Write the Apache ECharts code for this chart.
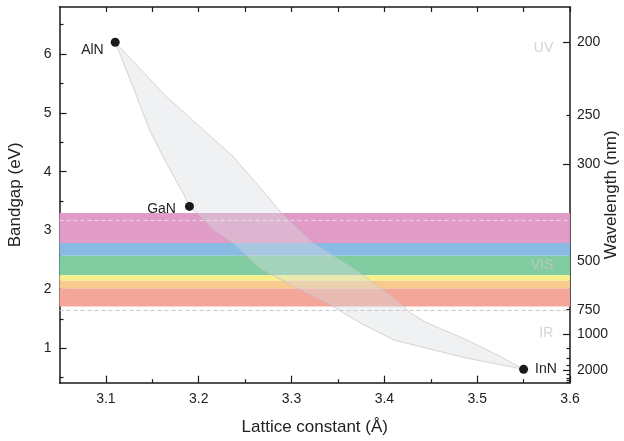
<!DOCTYPE html>
<html>
<head>
<meta charset="utf-8">
<script src="https://cdn.jsdelivr.net/npm/echarts@6/dist/echarts.min.js"></script>
<style>
  html, body { margin: 0; padding: 0; background: #fff; }
  #main { width: 624px; height: 441px; }
</style>
</head>
<body>
<div id="main"></div>
<script>
// tick positions
var xTicks = [3.1, 3.2, 3.3, 3.4, 3.5, 3.6];
var xMinorTicks = [3.15, 3.25, 3.35, 3.45, 3.55];
var yTicks = [1, 2, 3, 4, 5, 6];
var yMinorTicks = [0.5, 1.5, 2.5, 3.5, 4.5, 5.5, 6.5];
var wavelengthLabels = [200, 250, 300, 500, 750, 1000, 2000];
var wavelengthMajor = [200, 300, 500, 1000, 2000];
var wavelengthMinor = [250, 750, 1250, 1500, 1750, 2250, 2500, 2750, 3000];

// binary nitrides
var compounds = ['AlN', 'GaN', 'InN'];
var latticeConst = [3.11, 3.19, 3.55];
var bandgap = [6.2, 3.41, 0.64];

// ternary alloy edges (lattice constant, bandgap)
var alinnEdge = [[3.11, 6.2], [3.165, 5.28], [3.201, 4.77], [3.237, 4.26], [3.271, 3.64], [3.289, 3.30],
                 [3.323, 2.79], [3.374, 2.28], [3.417, 1.77], [3.428, 1.60], [3.446, 1.43], [3.489, 1.14],
                 [3.525, 0.86], [3.55, 0.64]];
var alganEdge = [[3.11, 6.2], [3.129, 5.45], [3.147, 4.71], [3.165, 4.15], [3.183, 3.64], [3.19, 3.41]];
var inganEdge = [[3.19, 3.41], [3.198, 3.30], [3.216, 3.01], [3.237, 2.79], [3.266, 2.36], [3.302, 2.05],
                 [3.338, 1.77], [3.374, 1.43], [3.410, 1.14], [3.453, 0.97], [3.489, 0.83], [3.525, 0.72],
                 [3.55, 0.64]];

// visible spectrum bands (eV edges, top to bottom)
var bandEdges = [3.30, 2.79, 2.57, 2.24, 2.145, 2.015, 1.71];
var bandColors = ['#e09cc6', '#88bae4', '#82cca2', '#f8f08c', '#f8ca8e', '#f4a698'];
var dashedLevels = [3.17, 1.65];

var regionNames = ['UV', 'VIS', 'IR'];
var regionLevels = [6.10, 2.405, 1.255];

var HC = 1240; // eV*nm

var ink = '#1a1a1a';
var font = 'Liberation Sans, Arial, sans-serif';
var yMin = 0.413, yMax = 6.8;

var polygon = alganEdge.concat(inganEdge.slice(1)).concat(alinnEdge.slice(0, -1).reverse());

var bandAreas = [];
for (var i = 0; i < bandColors.length; i++) {
    bandAreas.push([
        { yAxis: bandEdges[i], itemStyle: { color: bandColors[i] } },
        { yAxis: bandEdges[i + 1] }
    ]);
}

var labelPos = [
    { position: 'left', offset: [-2, 8] },
    { position: 'left', offset: [-4, 3] },
    { position: 'right', offset: [2, 0] }
];
var points = compounds.map(function (c, i) {
    return { name: c, value: [latticeConst[i], bandgap[i]], label: labelPos[i] };
});

var chart = echarts.init(document.getElementById('main'));

function baseY(extra) {
    var o = {
        type: 'value', min: yMin, max: yMax, gridIndex: 0,
        splitLine: { show: false },
        axisLine: { show: true, lineStyle: { color: ink, width: 1.5 } },
        axisLabel: { show: false },
        axisTick: { show: false }
    };
    for (var k in extra) o[k] = extra[k];
    return o;
}

var nameStyle = { fontSize: 17, color: '#222', fontFamily: font };

chart.setOption({
    animation: false,
    textStyle: { fontFamily: font },
    grid: { left: 59.5, right: 54, top: 7, bottom: 58.3, containLabel: false, outerBoundsMode: 'none' },
    xAxis: [
        {
            type: 'value', min: 3.05, max: 3.6, position: 'bottom',
            name: 'Lattice constant (Å)', nameLocation: 'middle', nameGap: 36, nameMoveOverlap: false,
            nameTextStyle: nameStyle,
            splitLine: { show: false },
            axisLine: { lineStyle: { color: ink, width: 1.5 } },
            axisTick: { inside: true, length: 7, customValues: xTicks, lineStyle: { color: ink, width: 1.2 } },
            axisLabel: { customValues: xTicks, fontSize: 14, color: '#222', margin: 9, fontFamily: font }
        },
        {
            type: 'value', min: 3.05, max: 3.6, position: 'bottom',
            splitLine: { show: false },
            axisLine: { show: false },
            axisTick: { inside: true, length: 3.5, customValues: xMinorTicks, lineStyle: { color: ink, width: 1.2 } },
            axisLabel: { show: false }
        },
        {
            type: 'value', min: 3.05, max: 3.6, position: 'top',
            splitLine: { show: false },
            axisLine: { lineStyle: { color: ink, width: 1.5 } },
            axisTick: { inside: true, length: 5, customValues: xTicks.concat(xMinorTicks), lineStyle: { color: ink, width: 1.2 } },
            axisLabel: { show: false }
        }
    ],
    yAxis: [
        baseY({
            position: 'left',
            name: 'Bandgap (eV)', nameLocation: 'middle', nameGap: 36, nameRotate: 90, nameMoveOverlap: false,
            nameTextStyle: nameStyle,
            axisTick: { show: true, inside: true, length: 7, customValues: yTicks, lineStyle: { color: ink, width: 1.2 } },
            axisLabel: { show: true, customValues: yTicks, fontSize: 14, color: '#222', margin: 8, fontFamily: font }
        }),
        baseY({
            position: 'left', axisLine: { show: false },
            axisTick: { show: true, inside: true, length: 4, customValues: yMinorTicks, lineStyle: { color: ink, width: 1.2 } }
        }),
        baseY({
            position: 'right',
            name: 'Wavelength (nm)', nameLocation: 'middle', nameGap: 33, nameRotate: 90, nameMoveOverlap: false,
            nameTextStyle: nameStyle,
            axisTick: { show: true, inside: true, length: 7,
                customValues: wavelengthMajor.map(function (w) { return HC / w; }),
                lineStyle: { color: ink, width: 1.2 } },
            axisLabel: { show: true, fontSize: 14, color: '#222', margin: 7, fontFamily: font,
                customValues: wavelengthLabels.map(function (w) { return HC / w; }),
                formatter: function (v) { return Math.round(HC / v); } }
        }),
        baseY({
            position: 'right', axisLine: { show: false },
            axisTick: { show: true, inside: true, length: 3.5,
                customValues: wavelengthMinor.map(function (w) { return HC / w; }).filter(function (v) { return v >= yMin; }),
                lineStyle: { color: ink, width: 1.2 } }
        })
    ],
    series: [
        {
            name: 'bands', type: 'line', data: [], z: 1,
            markArea: { silent: true, data: bandAreas }
        },
        {
            name: 'alloys', type: 'custom', z: 2,
            data: polygon,
            renderItem: function (params, api) {
                if (params.dataIndex !== 0) return;
                var pts = polygon.map(function (p) { return api.coord(p); });
                return {
                    type: 'polygon',
                    shape: { points: pts },
                    style: { fill: 'rgba(216,219,224,0.4)', stroke: 'rgba(190,190,190,0.8)', lineWidth: 0.8 }
                };
            }
        },
        {
            name: 'limits', type: 'line', data: [], z: 3,
            markLine: {
                silent: true, symbol: 'none', label: { show: false },
                data: [
                    { yAxis: dashedLevels[0], lineStyle: { color: 'rgba(242,242,242,0.7)', type: [4, 3], width: 1 } },
                    { yAxis: dashedLevels[1], lineStyle: { color: '#c8c8c8', type: [4, 3], width: 1 } }
                ]
            }
        },
        {
            name: 'regions', type: 'scatter', z: 4, symbolSize: 0, silent: true,
            data: regionNames.map(function (n, i) { return { name: n, value: [3.582, regionLevels[i]] }; }),
            label: { show: true, position: 'left', distance: 0, formatter: '{b}',
                color: '#c8c8c8', fontSize: 14, fontFamily: font }
        },
        {
            name: 'binaries', type: 'scatter', z: 5, symbolSize: 9,
            itemStyle: { color: ink, opacity: 1 },
            data: points,
            label: { show: true, formatter: '{b}', color: '#222', fontSize: 14, fontFamily: font, distance: 5 }
        }
    ]
});
</script>
</body>
</html>
